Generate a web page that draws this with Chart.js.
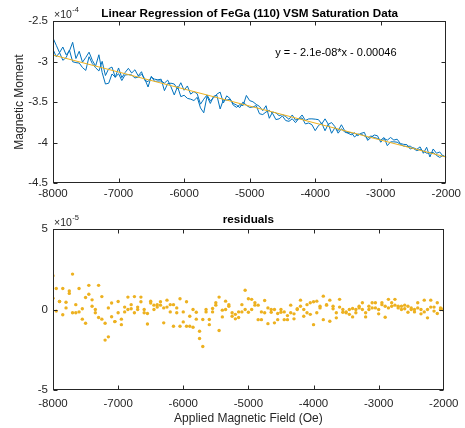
<!DOCTYPE html>
<html>
<head>
<meta charset="utf-8">
<title>FeGa (110) VSM Saturation - Linear Regression</title>
<script src="https://cdn.jsdelivr.net/npm/chart.js@4.4.1/dist/chart.umd.min.js"></script>
<style>
  html, body { margin: 0; padding: 0; background: #fff; }
  #wrap { position: relative; width: 465px; height: 428px; overflow: hidden; }
  .panel { position: absolute; left: 0; width: 465px; }
  #panel-fit { top: 0; height: 205px; }
  #panel-res { top: 205px; height: 223px; }
  canvas { display: block; }
</style>
</head>
<body>
<div id="wrap">
  <div class="panel" id="panel-fit"><canvas id="chart-fit" width="465" height="205"></canvas></div>
  <div class="panel" id="panel-res"><canvas id="chart-res" width="465" height="223"></canvas></div>
</div>
<script>
/* Applied field grid (Oe), shared by both sweeps */
var FIELD_OE = [
  -8000, -7950, -7900, -7850, -7800, -7750, -7700, -7650, -7600, -7550,
  -7500, -7450, -7400, -7350, -7300, -7250, -7200, -7150, -7100, -7050,
  -7000, -6950, -6900, -6850, -6800, -6750, -6700, -6650, -6600, -6550,
  -6500, -6450, -6400, -6350, -6300, -6250, -6200, -6150, -6100, -6050,
  -6000, -5950, -5900, -5850, -5800, -5750, -5700, -5650, -5600, -5550,
  -5500, -5450, -5400, -5350, -5300, -5250, -5200, -5150, -5100, -5050,
  -5000, -4950, -4900, -4850, -4800, -4750, -4700, -4650, -4600, -4550,
  -4500, -4450, -4400, -4350, -4300, -4250, -4200, -4150, -4100, -4050,
  -4000, -3950, -3900, -3850, -3800, -3750, -3700, -3650, -3600, -3550,
  -3500, -3450, -3400, -3350, -3300, -3250, -3200, -3150, -3100, -3050,
  -3000, -2950, -2900, -2850, -2800, -2750, -2700, -2650, -2600, -2550,
  -2500, -2450, -2400, -2350, -2300, -2250, -2200, -2150, -2100, -2050,
  -2000
];

/* Magnetic moment, units of 1e-4 */
var MOMENT_SWEEP_A = [
  -2.710, -2.800, -2.891, -2.821, -2.917, -2.872, -2.763, -2.963, -2.874, -3.009,
  -2.950, -2.885, -2.986, -3.056, -2.917, -3.137, -3.278, -3.268, -3.154, -3.194,
  -3.080, -3.200, -3.136, -3.084, -3.142, -3.102, -3.178, -3.126, -3.234, -3.249,
  -3.195, -3.218, -3.226, -3.218, -3.360, -3.272, -3.268, -3.278, -3.339, -3.262,
  -3.355, -3.302, -3.403, -3.371, -3.399, -3.527, -3.465, -3.413, -3.486, -3.449,
  -3.403, -3.378, -3.512, -3.424, -3.457, -3.539, -3.566, -3.533, -3.544, -3.419,
  -3.483, -3.497, -3.529, -3.554, -3.607, -3.546, -3.701, -3.623, -3.634, -3.669,
  -3.655, -3.680, -3.714, -3.660, -3.724, -3.707, -3.660, -3.728, -3.709, -3.708,
  -3.712, -3.718, -3.771, -3.708, -3.775, -3.754, -3.803, -3.885, -3.829, -3.871,
  -3.885, -3.905, -3.880, -3.916, -3.887, -3.875, -3.974, -3.938, -3.907, -3.917,
  -3.997, -3.950, -3.971, -3.938, -3.970, -3.959, -4.013, -4.023, -4.027, -4.081,
  -4.065, -4.085, -4.054, -4.133, -4.059, -4.179, -4.080, -4.133, -4.117, -4.169,
  -4.175
];
var MOMENT_SWEEP_B = [
  -2.850, -2.941, -2.891, -2.985, -2.952, -2.858, -3.003, -3.014, -3.019, -3.075,
  -3.110, -2.941, -3.026, -3.077, -3.117, -2.998, -3.173, -3.089, -3.069, -3.195,
  -3.150, -3.235, -3.166, -3.162, -3.167, -3.203, -3.193, -3.156, -3.214, -3.315,
  -3.183, -3.246, -3.241, -3.240, -3.267, -3.230, -3.313, -3.413, -3.309, -3.434,
  -3.417, -3.455, -3.465, -3.482, -3.442, -3.573, -3.633, -3.429, -3.518, -3.429,
  -3.418, -3.586, -3.470, -3.477, -3.467, -3.518, -3.538, -3.569, -3.499, -3.540,
  -3.567, -3.561, -3.544, -3.645, -3.655, -3.623, -3.603, -3.641, -3.717, -3.708,
  -3.672, -3.729, -3.739, -3.707, -3.755, -3.703, -3.698, -3.771, -3.759, -3.780,
  -3.854, -3.791, -3.761, -3.855, -3.772, -3.886, -3.818, -3.854, -3.781, -3.855,
  -3.880, -3.876, -3.932, -3.897, -3.897, -3.918, -3.948, -3.919, -3.939, -3.950,
  -3.970, -3.939, -4.039, -3.992, -3.992, -3.996, -4.023, -4.044, -4.049, -4.045,
  -4.075, -4.101, -4.086, -4.107, -4.132, -4.128, -4.123, -4.159, -4.184, -4.160,
  -4.185
];

/* Fit line y = -2.1e-08*x - 0.00046, end points (units of 1e-4) */
var FIT_FIELD = [-8000, -2000];
var FIT_MOMENT = [-2.92, -4.18];

/* Residuals, units of 1e-5 */
var RESID_SWEEP_A = [
  2.1, 1.3, 0.5, 1.3, 0.45, 1.0, 2.2, 0.3, 1.3, 0.05,
  0.75, 1.5, 0.6, 0.0, 1.5, -0.6, -1.9, -1.7, -0.45, -0.75,
  0.5, -0.6, 0.15, 0.77, 0.3, 0.8, 0.15, 0.77, -0.2, -0.25,
  0.4, 0.27, 0.3, 0.48, -0.83, 0.15, 0.3, 0.3, -0.2, 0.67,
  -0.15, 0.48, -0.42, 0, -0.17, -1.35, -0.62, 0, -0.62, -0.15,
  0.42, 0.77, -0.46, 0.52, 0.3, -0.42, -0.58, -0.15, -0.15, 1.2,
  0.67, 0.63, 0.42, 0.27, -0.15, 0.56, -0.88, 0, 0, -0.25,
  0, -0.15, -0.38, 0.27, -0.27, 0, 0.58, 0, 0.3, 0.42,
  0.48, 0.52, 0.1, 0.83, 0.27, 0.58, 0.2, -0.52, 0.15, -0.17,
  -0.2, -0.3, 0.06, -0.2, 0.2, 0.42, -0.46, 0, 0.42, 0.42,
  -0.27, 0.3, 0.2, 0.63, 0.42, 0.63, 0.2, 0.2, 0.27, -0.17,
  0.1, 0, 0.42, -0.27, 0.58, -0.52, 0.58, 0.15, 0.42, 0,
  0.05
];
var RESID_SWEEP_B = [
  0.7, -0.1, 0.5, -0.33, 0.1, 1.15, -0.2, -0.2, -0.15, -0.6,
  -0.85, 0.95, 0.2, -0.2, -0.5, 0.8, -0.85, 0.1, 0.4, -0.75,
  -0.2, -0.94, -0.15, 0, 0.05, -0.2, 0, 0.48, 0, -0.9,
  0.52, 0, 0.15, 0.27, 0.1, 0.58, -0.15, -1.04, 0.1, -1.04,
  -0.77, -1.04, -1.04, -1.1, -0.6, -1.8, -2.3, -0.15, -0.94, 0.06,
  0.27, -1.3, -0.04, 0, 0.2, -0.2, -0.3, -0.5, 0.3, 0,
  -0.17, 0, 0.27, -0.63, -0.63, -0.2, 0.1, -0.17, -0.83, -0.63,
  -0.17, -0.63, -0.63, -0.2, -0.58, 0.05, 0.2, -0.42, -0.2, -0.3,
  -0.94, -0.2, 0.2, -0.63, 0.3, -0.73, 0.05, -0.2, 0.63, 0,
  -0.15, 0, -0.46, 0, 0.1, 0, -0.2, 0.2, 0.1, 0.1,
  0, 0.42, -0.48, 0.1, 0.2, 0.27, 0.1, 0, 0.05, 0.2,
  0, -0.15, 0.1, 0, -0.15, 0, 0.15, -0.1, -0.25, 0.1,
  -0.05
];

var X_TICKS = [-8000, -7000, -6000, -5000, -4000, -3000, -2000];
var Y_TICKS_MOMENT = [-4.5, -4, -3.5, -3, -2.5];
var Y_TICKS_RESID = [-5, 0, 5];

(function () {
  'use strict';

  var FONT = '"Liberation Sans", Arial, Helvetica, sans-serif';
  var AXIS_COLOR = '#262626';
  var BLUE = '#0072BD';
  var GOLD = '#EDB120';
  var TICK_LEN = 4;

  function pairs(xs, ys) {
    return xs.map(function (x, i) { return { x: x, y: ys[i] }; });
  }

  function useTicks(list) {
    return function (scale) {
      scale.ticks = list.map(function (v) { return { value: v }; });
    };
  }

  function fixWidth(w) { return function (scale) { scale.width = w; }; }
  function fixHeight(h) { return function (scale) { scale.height = h; }; }

  /* MATLAB-like box: inward ticks on all four sides, title, exponent, labels */
  var matlabAxes = {
    id: 'matlabAxes',
    afterDraw: function (chart, args, o) {
      var ctx = chart.ctx, a = chart.chartArea;
      var xs = chart.scales.x, ys = chart.scales.y;
      var L = Math.round(a.left) + 0.5, R = Math.round(a.right) - 0.5;
      var T = Math.round(a.top) + 0.5, B = Math.round(a.bottom) - 0.5;

      ctx.save();
      ctx.strokeStyle = AXIS_COLOR;
      ctx.lineWidth = 1;
      ctx.strokeRect(L, T, R - L, B - T);
      ctx.beginPath();
      xs.ticks.forEach(function (t) {
        var px = Math.min(Math.round(xs.getPixelForValue(t.value)) + 0.5, R);
        ctx.moveTo(px, B); ctx.lineTo(px, B - TICK_LEN);
        ctx.moveTo(px, T); ctx.lineTo(px, T + TICK_LEN);
      });
      ys.ticks.forEach(function (t) {
        var py = Math.round(ys.getPixelForValue(t.value)) + 0.5;
        ctx.moveTo(L, py); ctx.lineTo(L + TICK_LEN, py);
        ctx.moveTo(R, py); ctx.lineTo(R - TICK_LEN, py);
      });
      ctx.stroke();

      var cx = (a.left + a.right) / 2;
      ctx.fillStyle = '#000';
      ctx.textAlign = 'center';
      ctx.textBaseline = 'alphabetic';
      ctx.font = 'bold 11.7px ' + FONT;
      ctx.fillText(o.title, cx, a.top - o.titleGap);

      /* exponent label, e.g. x10^-4 */
      ctx.fillStyle = AXIS_COLOR;
      ctx.textAlign = 'left';
      ctx.font = '10.5px ' + FONT;
      ctx.fillText('\u00d710', a.left + 1, a.top - 3);
      var w = ctx.measureText('\u00d710').width;
      ctx.font = '7.5px ' + FONT;
      ctx.fillText(o.exponent, a.left + 1.5 + w, a.top - 9);

      ctx.font = '12px ' + FONT;
      ctx.textAlign = 'center';
      ctx.textBaseline = 'middle';
      if (o.yLabel) {
        ctx.save();
        ctx.translate(o.yLabelX, (a.top + a.bottom) / 2);
        ctx.rotate(-Math.PI / 2);
        ctx.fillText(o.yLabel, 0, 0);
        ctx.restore();
      }
      if (o.xLabel) {
        ctx.fillText(o.xLabel, cx, o.xLabelY);
      }

      if (o.note) {
        ctx.fillStyle = '#000';
        ctx.font = '11px ' + FONT;
        ctx.textAlign = 'left';
        ctx.fillText(o.note.text, xs.getPixelForValue(o.note.x), ys.getPixelForValue(o.note.y));
      }
      ctx.restore();
    }
  };

  function axisOptions(min, max, ticks, fit, pad) {
    return {
      type: 'linear',
      min: min,
      max: max,
      grid: { display: false, drawTicks: false },
      border: { display: false },
      afterBuildTicks: useTicks(ticks),
      afterFit: fit,
      ticks: {
        padding: pad,
        color: AXIS_COLOR,
        font: { family: FONT, size: 11.5 },
        maxRotation: 0,
        callback: function (v) { return String(Math.round(v * 10) / 10); }
      }
    };
  }

  Chart.defaults.animation = false;

  new Chart(document.getElementById('chart-fit'), {
    type: 'scatter',
    data: {
      datasets: [
        { data: pairs(FIT_FIELD, FIT_MOMENT), showLine: true, borderColor: GOLD, borderWidth: 1, pointRadius: 0, order: 0 },
        { data: pairs(FIELD_OE, MOMENT_SWEEP_A), showLine: true, borderColor: BLUE, borderWidth: 1, pointRadius: 0, order: 1 },
        { data: pairs(FIELD_OE, MOMENT_SWEEP_B), showLine: true, borderColor: BLUE, borderWidth: 1, pointRadius: 0, order: 2 }
      ]
    },
    options: {
      responsive: false,
      layout: { padding: { left: 0, top: 21, right: 16, bottom: 0 } },
      plugins: {
        legend: { display: false },
        tooltip: { enabled: false },
        matlabAxes: {
          title: 'Linear Regression of FeGa (110) VSM Saturation Data',
          titleGap: 4.5,
          exponent: '-4',
          yLabel: 'Magnetic Moment',
          yLabelX: 20,
          note: { text: 'y = - 2.1e-08*x - 0.00046', x: -4610, y: -2.895 }
        }
      },
      scales: {
        x: axisOptions(-8000, -2000, X_TICKS, fixHeight(22), 4),
        y: axisOptions(-4.5, -2.5, Y_TICKS_MOMENT, fixWidth(53), 5)
      }
    },
    plugins: [matlabAxes]
  });

  new Chart(document.getElementById('chart-res'), {
    type: 'scatter',
    data: {
      datasets: [
        {
          data: pairs(FIELD_OE, RESID_SWEEP_A).concat(pairs(FIELD_OE, RESID_SWEEP_B)),
          backgroundColor: GOLD,
          borderWidth: 0,
          pointRadius: 1.7
        }
      ]
    },
    options: {
      responsive: false,
      layout: { padding: { left: 0, top: 24, right: 16, bottom: 0 } },
      plugins: {
        legend: { display: false },
        tooltip: { enabled: false },
        matlabAxes: {
          title: 'residuals',
          titleGap: 6.5,
          exponent: '-5',
          xLabel: 'Applied Magnetic Field (Oe)',
          xLabelY: 214
        }
      },
      scales: {
        x: axisOptions(-8000, -2000, X_TICKS, fixHeight(38), 6.5),
        y: axisOptions(-5, 5, Y_TICKS_RESID, fixWidth(53), 5)
      }
    },
    plugins: [matlabAxes]
  });
})();
</script>
</body>
</html>
